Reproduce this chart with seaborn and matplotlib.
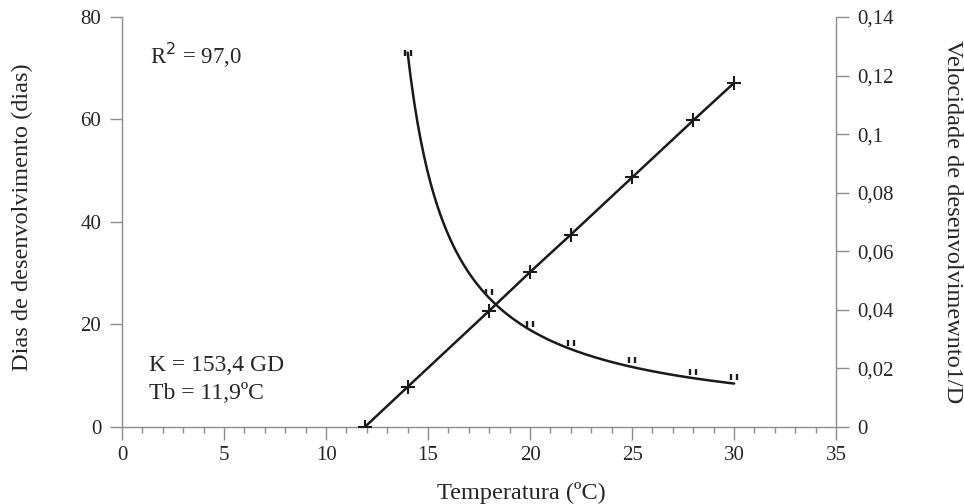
import numpy as np
import pandas as pd
import seaborn as sns
import matplotlib.pyplot as plt
from matplotlib.path import Path
from matplotlib.ticker import MultipleLocator, FuncFormatter

sns.set_style("white")
plt.rcParams['font.family'] = ['Liberation Serif', 'DejaVu Serif']

# data
temp_dias = [14, 18, 20, 22, 25, 28, 30]
dias = [72.6, 26.0, 19.8, 16.0, 12.7, 10.4, 9.4]

temp_vel = [11.9, 14, 18, 20, 22, 25, 28, 30]
vel = [0.0, 0.0137, 0.0397, 0.0529, 0.0657, 0.0852, 0.1047, 0.1175]

# fitted model shown in the chart: D = K / (T - Tb)
K = 153.4
Tb = 11.9
t_fit = np.linspace(14, 30, 200)
fit = pd.DataFrame({'T': t_fit, 'D': K / (t_fit - Tb)})

df_d = pd.DataFrame({'T': temp_dias, 'D': dias})
df_v = pd.DataFrame({'T': temp_vel, 'V': vel})

quote = Path([(-0.45, 0.6), (-0.45, -0.1), (0.45, 0.6), (0.45, -0.1)],
             [Path.MOVETO, Path.LINETO, Path.MOVETO, Path.LINETO])

fig = plt.figure(figsize=(9.64, 5.04), dpi=100)
ax = fig.add_axes([0.1266, 0.1528, 0.7407, 0.8135])
ax2 = ax.twinx()

sns.lineplot(data=fit, x='T', y='D', ax=ax, color='#1a1a1a', lw=1.8)
sns.scatterplot(data=df_d, x='T', y='D', ax=ax, marker=quote, s=45,
                color='#1a1a1a', linewidth=1.7, edgecolor='#1a1a1a')
sns.lineplot(data=df_v, x='T', y='V', ax=ax2, color='#1a1a1a', lw=1.8,
             marker='+', markersize=10, markeredgewidth=1.5, markeredgecolor='#1a1a1a')

ax.set_xlim(0, 35)
ax.set_ylim(0, 80)
ax2.set_ylim(0, 0.14)
ax.xaxis.set_major_locator(MultipleLocator(5))
ax.xaxis.set_minor_locator(MultipleLocator(1))
ax.yaxis.set_major_locator(MultipleLocator(20))
ax2.yaxis.set_major_locator(MultipleLocator(0.02))
ax2.yaxis.set_major_formatter(FuncFormatter(lambda v, p: '{:g}'.format(round(v, 2)).replace('.', ',')))

gray = '#8c8c8c'
for a in (ax, ax2):
    for s in a.spines.values():
        s.set_color(gray)
        s.set_linewidth(1.0)
    a.spines['top'].set_visible(False)
ax.spines['right'].set_visible(False)
ax2.spines['left'].set_visible(False)
ax2.spines['bottom'].set_visible(False)

ax.tick_params(axis='x', which='major', direction='out', length=9, width=1, color=gray,
               labelsize=15, pad=5, bottom=True)
ax.tick_params(axis='x', which='minor', direction='out', length=4, width=1, color=gray, bottom=True)
ax.tick_params(axis='y', direction='out', length=9, width=1, color=gray, labelsize=15, left=True, pad=6)
ax2.tick_params(axis='y', direction='out', length=9, width=1, color=gray, labelsize=15, right=True, pad=6)

ax.set_xlabel('Temperatura (ºC)', fontsize=17.5)
ax.xaxis.set_label_coords(0.559, -0.134)
ax.set_ylabel('Dias de desenvolvimento (dias)', fontsize=17.5)
ax.yaxis.set_label_coords(-0.1246, 0.512)
ax2.set_ylabel('Velocidade de desenvolvimewnto1/D', fontsize=17.5, rotation=-90, labelpad=50)

ax.text(1.35, 72.6, 'R$^{2}$ = 97,0', fontsize=16.5, va='center', ha='left')
ax.text(1.3, 12.0, 'K = 153,4 GD', fontsize=17, va='center', ha='left')
ax.text(1.3, 6.6, 'Tb = 11,9ºC', fontsize=17, va='center', ha='left')

fig.savefig('out.png', dpi=100, facecolor='white')
